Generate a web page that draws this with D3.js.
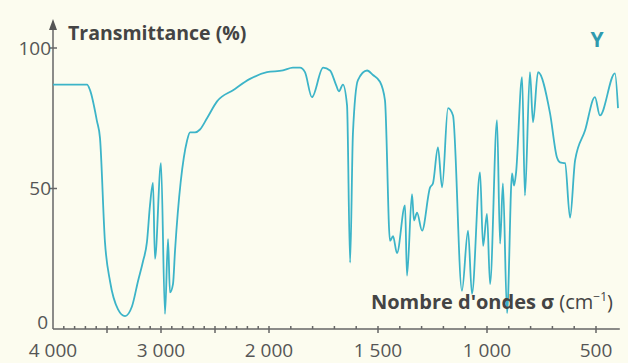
<html>
<head>
<meta charset="utf-8" />
<script src="https://d3js.org/d3.v7.min.js"></script>
<style>
  body { margin: 0; background: #fcfcef; }
  svg { display: block; font-family: "Open Sans", Lato, sans-serif; }
  .spectrum { fill: none; stroke: #3cb4c8; stroke-width: 1.8; stroke-linejoin: round; }
  .ax { stroke: #666; stroke-width: 1.5; fill: none; }
  .lbl { fill: #555; font-size: 19px; }
</style>
</head>
<body>
<svg id="chart" width="628" height="363"></svg>
<script>
// wavenumbers (cm-1) and transmittance (%)
let wavenumbers = [4000,3685,3657,3593,3565,3519,3472,3398,3333,3269,3213,3167,3130,3102,3074,3056,3000,2963,2935,2917,2889,2870,2759,2731,2685,2639,2574,2481,2333,2176,2019,
  1936,1890,1858,1835,1803,1752,1720,1693,1679,1661,1642,1628,1615,1592,1550,1523,1491,1468,1445,1431,1413,1376,1367,1344,1335,1321,1298,1261,1248,1225,1206,1179,1156,
  1115,1087,1069,1032,1018,1000,986,954,940,927,908,885,876,867,839,826,803,789,766,711,679,665,642,619,596,550,505,482,413,399]
let transmittance = [87,87,85,74,68,31,17,7,4.6,8,17,24,31,44,52,25,59,5.4,32,13,16,28,67,70,70,71,75,81,85,89,91.4,
  92,93,93,91.4,82.5,93,92,87,84.6,87,79.6,23.6,69.6,88.6,92,90.4,88,81.4,31.4,33,27,44,19,48,38.6,41.4,35,50.4,51.8,64.6,50.4,78.6,76,
  13.6,35,12.5,55.7,29.6,41,16,74.3,30.4,51.8,5.7,55.4,51,55.4,89.6,47.5,91.4,73.6,91.4,76.8,61,59.3,59,39.6,60,70.7,82.5,76,91,78.6]
let xTickValues = [4000,3000,2000,1500,1000,500]
let xTickLabels = ["4 000","3 000","2 000","1 500","1 000","500"]
let yTickValues = [0,50,100]

let svg = d3.select("#chart")
// the wavenumber axis is stretched by two below 2000 cm-1
let x = d3.scaleLinear().domain([4000,2000,500]).range([53,269,596])
let y = d3.scaleLinear().domain([0,100]).range([329,48])

let data = wavenumbers.map((w,i) => [w, transmittance[i]])

// axes
svg.append("line").attr("class","ax").attr("x1",x(4000)).attr("x2",x(400)+2).attr("y1",y(0)).attr("y2",y(0))
svg.append("line").attr("class","ax").attr("x1",x(4000)).attr("x2",x(4000)).attr("y1",y(0)).attr("y2",26)
svg.append("path").attr("d",`M${x(4000)-4},30 L${x(4000)},19 L${x(4000)+4},30 Z`).attr("fill","#555")

let minor = d3.range(3900,400,-100)
svg.selectAll(".mt").data(minor).enter().append("line").attr("class","ax")
  .attr("x1",d => x(d)).attr("x2",d => x(d))
  .attr("y1",y(0)-3).attr("y2",d => d % 500 === 0 ? y(0)+4 : y(0))
  .attr("stroke-width",1)

svg.selectAll(".yt").data(yTickValues.slice(1)).enter().append("line").attr("class","ax")
  .attr("x1",x(4000)-3).attr("x2",x(4000)+4).attr("y1",d => y(d)).attr("y2",d => y(d))
svg.selectAll(".yl").data(yTickValues).enter().append("text").attr("class","lbl")
  .attr("x",d => d === 0 ? 48 : 51).attr("y",d => d === 0 ? y(d)-7 : y(d)).attr("dy","0.35em")
  .attr("text-anchor","end").text(d => d)

svg.selectAll(".xl").data(xTickValues).enter().append("text").attr("class","lbl")
  .attr("x",d => x(d)).attr("y",357).attr("text-anchor","middle")
  .text((d,i) => xTickLabels[i])

// spectrum
let line = d3.line().x(d => x(d[0])).y(d => y(d[1])).curve(d3.curveMonotoneX)
svg.append("path").datum(data).attr("class","spectrum").attr("d",line)

// titles
svg.append("text").attr("x",68).attr("y",40).attr("fill","#444")
  .attr("font-size",19.5).attr("font-weight","bold").text("Transmittance (%)")
svg.append("text").attr("x",597).attr("y",47).attr("text-anchor","middle").attr("fill","#2f9aae")
  .attr("font-size",21).attr("font-weight","bold").text("Y")
let xt = svg.append("text").attr("x",613).attr("y",309).attr("text-anchor","end").attr("fill","#444").attr("font-size",20)
xt.append("tspan").attr("font-weight","bold").text("Nombre d'ondes σ ")
xt.append("tspan").text("(cm")
xt.append("tspan").attr("font-size",12).attr("dy",-8).text("−1")
xt.append("tspan").attr("dy",8).text(")")
</script>
</body>
</html>
